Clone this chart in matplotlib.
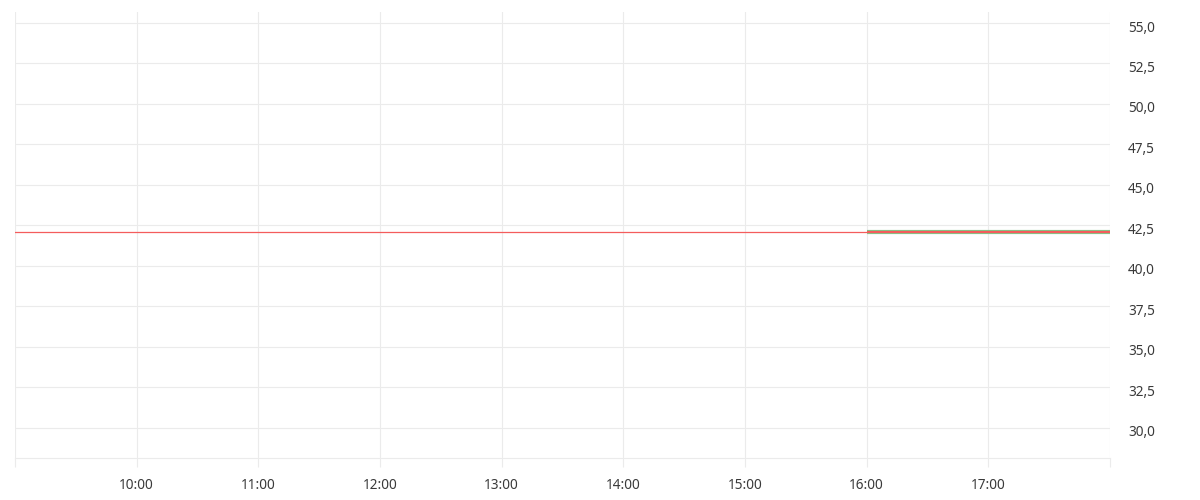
import matplotlib
matplotlib.use("Agg")
import matplotlib.pyplot as plt
import matplotlib.ticker as mticker
import matplotlib.transforms as mtransforms
import pandas as pd

# Data
day = "2024-01-02"
prev_close_times = [f"{day} 09:00", f"{day} 18:00"]
prev_close_values = [42.1, 42.1]
session_times = [f"{day} 16:00", f"{day} 17:00", f"{day} 18:00"]
session_values = [42.1, 42.1, 42.1]
y_ticks = [30.0, 32.5, 35.0, 37.5, 40.0, 42.5, 45.0, 47.5, 50.0, 52.5, 55.0]
x_tick_hours = list(range(9, 19))
x_label_hours = list(range(10, 18))

plt.rcParams["font.family"] = ["Noto Sans", "DejaVu Sans"]

pc_t = pd.to_datetime(prev_close_times)
s_t = pd.to_datetime(session_times)

fig = plt.figure(figsize=(12, 5), dpi=100)
ax = fig.add_axes([15/1200, 42/500, 1095/1200, 446/500])

grid_c = "#ebebeb"
ax.plot(pc_t, prev_close_values, color="#f45c5c", lw=0.9, zorder=3)
ax.plot(s_t, session_values, color="#7cc98a", lw=3.0, zorder=4, solid_capstyle="butt")
ax.plot(s_t, session_values, color="#f45c5c", lw=1.6, zorder=5, solid_capstyle="butt")

ax.set_xlim(pd.Timestamp(f"{day} 09:00"), pd.Timestamp(f"{day} 18:00"))
ax.set_ylim(28.14, 55.68)

xt = [pd.Timestamp(f"{day} {h:02d}:00") for h in x_tick_hours]
ax.set_xticks(xt)
ax.set_xticklabels([f"{h:02d}:00" if h in x_label_hours else "" for h in x_tick_hours])
ax.set_yticks(y_ticks)
ax.yaxis.set_major_formatter(mticker.FuncFormatter(lambda v, p: f"{v:.1f}".replace(".", ",")))
ax.yaxis.tick_right()

ax.grid(True, color=grid_c, lw=0.8, zorder=0)
for s in ["top", "left", "right"]:
    ax.spines[s].set_visible(False)
ax.spines["bottom"].set_color(grid_c)
ax.spines["bottom"].set_linewidth(0.8)

ax.tick_params(axis="x", length=6.5, width=0.8, color=grid_c, labelsize=9.8,
               labelcolor="#3a3a3a", pad=8)
ax.tick_params(axis="y", length=0, labelsize=9.8, labelcolor="#3a3a3a", pad=13)
off = mtransforms.ScaledTranslation(0, -3/100, fig.dpi_scale_trans)
for lab in ax.get_yticklabels():
    lab.set_horizontalalignment("left")
    lab.set_transform(lab.get_transform() + off)

fig.savefig("out.png", dpi=100, facecolor="white")
